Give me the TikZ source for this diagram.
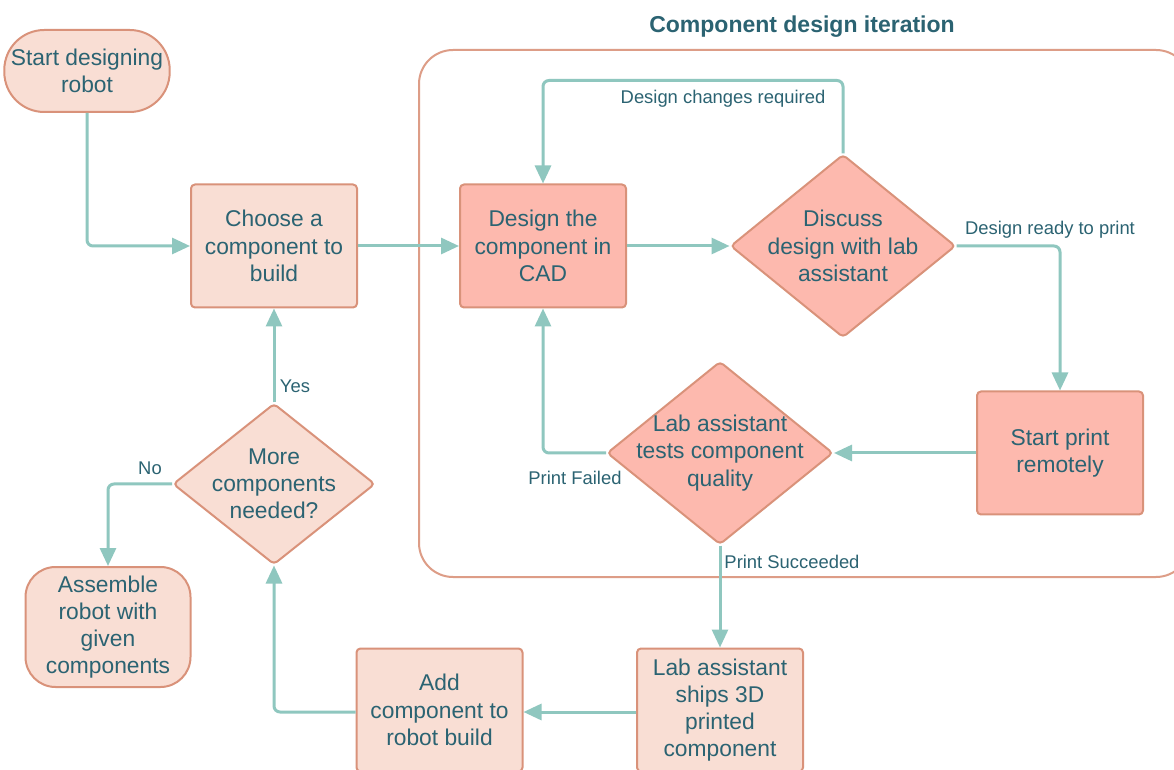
\documentclass[tikz,border=0pt]{standalone}
\usepackage{fontspec}
\setmainfont{Liberation Sans}
\usetikzlibrary{shapes.geometric,arrows.meta}

\definecolor{flowline}{HTML}{8FC7BF}
\definecolor{flowtext}{HTML}{2B6372}
\definecolor{paleFill}{HTML}{F9DED4}
\definecolor{strongFill}{HTML}{FDB9AE}
\definecolor{boxEdge}{HTML}{D9927A}

\tikzset{
  box/.style={draw=boxEdge, line width=1pt, rounded corners=2pt, fill=paleFill,
    minimum width=83pt, minimum height=61.5pt, align=center, text=flowtext,
    font=\fontsize{11.4}{13.6}\selectfont},
  hotbox/.style={box, fill=strongFill},
  terminal/.style={box, minimum height=41pt, rounded corners=20pt},
  decision/.style={diamond, draw=boxEdge, line width=1pt, fill=paleFill, align=center,
    text=flowtext, inner sep=-4.6pt, shape aspect=1.23, rounded corners=2pt,
    font=\fontsize{11.4}{13.6}\selectfont},
  hotdecision/.style={decision, fill=strongFill},
  flow/.style={draw=flowline, line width=1.5pt, rounded corners=3pt,
    -{Triangle[length=9pt,width=8pt]}},
  lbl/.style={text=flowtext, font=\fontsize{9.2}{11}\selectfont, inner sep=0pt}
}

\begin{document}
\begin{tikzpicture}[x=0.5pt, y=-0.5pt]

  \clip (0,0) rectangle (1174,770);
  \fill[white] (0,0) rectangle (1174,770);

  % iteration frame
  \draw[boxEdge!90!white, line width=1pt, rounded corners=17pt] (419,50) rectangle (1190,577);
  \node[lbl, font=\fontsize{11.5}{14}\selectfont\bfseries] (title) at (802,27) {Component design iteration};

  \node[terminal, minimum width=82.5pt] (start) at (87,71) {Start designing\\robot};
  \node[box] (choose) at (274,246) {Choose a\\component to\\build};
  \node[hotbox] (cad) at (543,246) {Design the\\component in\\CAD};
  \node[hotdecision, minimum width=112.5pt, minimum height=91.5pt] (discuss) at (843,246) {Discuss\\design with lab\\assistant};
  \node[hotbox] (print) at (1060,453) {Start print\\remotely};
  \node[hotdecision, minimum width=113pt, minimum height=91.5pt] (tests) at (720,453) {Lab assistant\\tests component\\quality};
  \node[decision, minimum width=101pt, minimum height=80.5pt] (more) at (274,484) {More\\components\\needed?};
  \node[box, minimum width=82.5pt, minimum height=60pt, rounded corners=15pt] (assemble) at (108,627) {Assemble\\robot with\\given\\components};
  \node[box] (add) at (439.5,710) {Add\\component to\\robot build};
  \node[box] (ships) at (720,710) {Lab assistant\\ships 3D\\printed\\component};

  \draw[flow] (start.south) |- (choose.west);
  \draw[flow] (choose.east) -- (cad.west);
  \draw[flow] (cad.east) -- (discuss.west);
  \draw[flow] (discuss.north) -- ++(0,-73) -| (cad.north);
  \draw[flow] (discuss.east) -| (print.north);
  \draw[flow] (print.west) -- (tests.east);
  \draw[flow] (tests.west) -| (cad.south);
  \draw[flow] (tests.south) -- (ships.north);
  \draw[flow] (ships.west |- 0,712) -- (add.east |- 0,712);
  \draw[flow] (add.west |- 0,712) -| (more.south);
  \draw[flow] (more.north) -- (choose.south);
  \draw[flow] (more.west) -| (assemble.north);

  \node[lbl] (changes) at (723,99) {Design changes required};
  \node[lbl] (ready) at (1050,230) {Design ready to print};
  \node[lbl] (failed) at (575,478) {Print Failed};
  \node[lbl] (passed) at (792,562) {Print Succeeded};
  \node[lbl] (yes) at (295,386) {Yes};
  \node[lbl] (no) at (150,468) {No};

\end{tikzpicture}
\end{document}
